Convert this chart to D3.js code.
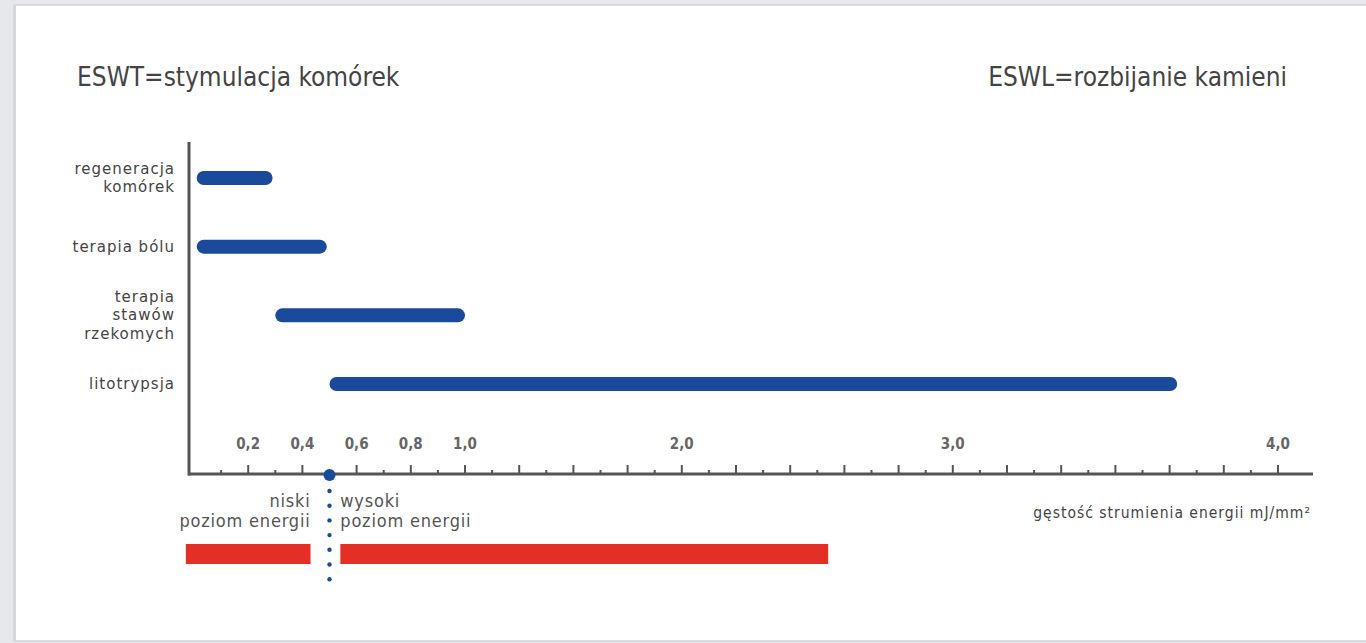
<!DOCTYPE html>
<html>
<head>
<meta charset="utf-8">
<script src="https://cdn.jsdelivr.net/npm/d3@7"></script>
<style>
  html, body { margin: 0; padding: 0; background: #e7e8ec; }
  svg { display: block; }
  .cond { font-family: "Liberation Sans Narrow", "DejaVu Sans Condensed", "Roboto", sans-serif; }
</style>
</head>
<body>
<svg id="chart" width="1366" height="643"></svg>
<script>
// Treatment ranges (energy flux density, mJ/mm²)
const categories = ["regeneracja\nkomórek", "terapia bólu", "terapia\nstawów\nrzekomych", "litotrypsja"];
const rangeStart = [0.01, 0.01, 0.30, 0.50];
const rangeEnd   = [0.29, 0.49, 1.00, 3.69];

// Energy level bands below the axis
const levelNames = ["niski\npoziom energii", "wysoki\npoziom energii"];
const levelStart = [-0.03, 0.54];
const levelEnd   = [0.43, 2.54];
const threshold = 0.5;

// Axis labels
const tickValues = [0.2, 0.4, 0.6, 0.8, 1.0, 2.0, 3.0, 4.0];
const tickLabels = ["0,2", "0,4", "0,6", "0,8", "1,0", "2,0", "3,0", "4,0"];
const titleLeft = "ESWT=stymulacja komórek";
const titleRight = "ESWL=rozbijanie kamieni";
const axisTitle = "gęstość strumienia energii mJ/mm²";

const svg = d3.select("#chart");
const blue = "#1a4a9b", red = "#e42f27", ink = "#555";

// white card
svg.append("rect").attr("x", 15).attr("y", 5).attr("width", 1360).attr("height", 636)
  .attr("fill", "#fff").attr("stroke", "#c9cacd").attr("stroke-width", 1.2);
svg.append("rect").attr("x", 13).attr("y", 5).attr("width", 3).attr("height", 636).attr("fill", "#d6d7da");

// piecewise axis: segments 0–1, 1–2, 2–3, 3–4 hold 5, 4, 5 and 6 steps
const x0 = 194, step = 54.2;
const segSteps = [0, 5, 9, 14, 20];
const x = d3.scaleLinear().domain([0, 1, 2, 3, 4]).range(segSteps.map(u => x0 + u * step));

const y = d3.scalePoint().domain(categories).range([178, 384]);
const axisY = 474;

// titles
svg.append("text").attr("class", "cond").attr("x", 77).attr("y", 86)
  .attr("font-size", 26).attr("fill", "#444").text(titleLeft);
svg.append("text").attr("class", "cond").attr("x", 1287).attr("y", 86)
  .attr("text-anchor", "end").attr("font-size", 26).attr("fill", "#444").text(titleRight);

// y axis line
svg.append("line").attr("x1", 189).attr("x2", 189).attr("y1", 142).attr("y2", axisY + 1.5)
  .attr("stroke", ink).attr("stroke-width", 3);

// x axis line with major and minor ticks
const majorTicks = d3.range(1, 21).map(u => x.invert(x0 + u * step));
const minorTicks = d3.range(0, 20).map(u => x.invert(x0 + (u + 0.5) * step));
svg.append("line").attr("x1", 188).attr("x2", 1313).attr("y1", axisY).attr("y2", axisY)
  .attr("stroke", ink).attr("stroke-width", 3);
svg.append("g").selectAll("line").data(majorTicks).join("line")
  .attr("x1", d => x(d)).attr("x2", d => x(d)).attr("y1", axisY).attr("y2", axisY - 9)
  .attr("stroke", ink).attr("stroke-width", 2);
svg.append("g").selectAll("line").data(minorTicks).join("line")
  .attr("x1", d => x(d)).attr("x2", d => x(d)).attr("y1", axisY).attr("y2", axisY - 4)
  .attr("stroke", ink).attr("stroke-width", 2);

// tick labels above the axis
svg.append("g").selectAll("text").data(tickValues).join("text")
  .attr("class", "cond")
  .attr("x", d => x(d)).attr("y", 449).attr("text-anchor", "middle")
  .attr("font-size", 15).attr("font-weight", "bold").attr("fill", "#666")
  .text((d, i) => tickLabels[i]);

// category labels
const catG = svg.append("g");
categories.forEach(c => {
  const lines = c.split("\n");
  const t = catG.append("text").attr("font-family", "'DejaVu Sans', sans-serif")
    .attr("font-size", 15).attr("fill", "#444").attr("text-anchor", "end")
    .attr("letter-spacing", 1.0);
  lines.forEach((ln, i) => {
    t.append("tspan").attr("x", 175)
      .attr("y", y(c) + 5 + (i - (lines.length - 1) / 2) * 18.5).text(ln);
  });
});

// treatment range bars
svg.append("g").selectAll("rect").data(categories).join("rect")
  .attr("x", (d, i) => x(rangeStart[i])).attr("y", d => y(d) - 7)
  .attr("width", (d, i) => x(rangeEnd[i]) - x(rangeStart[i])).attr("height", 14)
  .attr("rx", 7).attr("fill", blue);

// energy level bands
svg.append("g").selectAll("rect").data(levelNames).join("rect")
  .attr("x", (d, i) => x(levelStart[i])).attr("y", 544)
  .attr("width", (d, i) => x(levelEnd[i]) - x(levelStart[i])).attr("height", 20)
  .attr("fill", red);

// energy level labels
levelNames.forEach((n, i) => {
  const left = i === 0;
  const t = svg.append("text").attr("class", "cond").attr("font-size", 18).attr("fill", "#555")
    .attr("letter-spacing", 0.8).attr("text-anchor", left ? "end" : "start");
  n.split("\n").forEach((ln, j) => {
    t.append("tspan").attr("x", left ? x(levelEnd[i]) : x(levelStart[i]))
      .attr("y", 507 + j * 20).text(ln);
  });
});

// threshold marker and dotted divider
svg.append("g").selectAll("circle").data(d3.range(491, 585, 14.7)).join("circle")
  .attr("cx", x(threshold)).attr("cy", d => d).attr("r", 2.2).attr("fill", blue);
svg.append("circle").attr("cx", x(threshold)).attr("cy", axisY + 1).attr("r", 6).attr("fill", blue);

// axis title
svg.append("text").attr("class", "cond").attr("x", 1311).attr("y", 518)
  .attr("text-anchor", "end").attr("font-size", 15.5).attr("letter-spacing", 1.0)
  .attr("fill", "#444").text(axisTitle);
</script>
</body>
</html>
